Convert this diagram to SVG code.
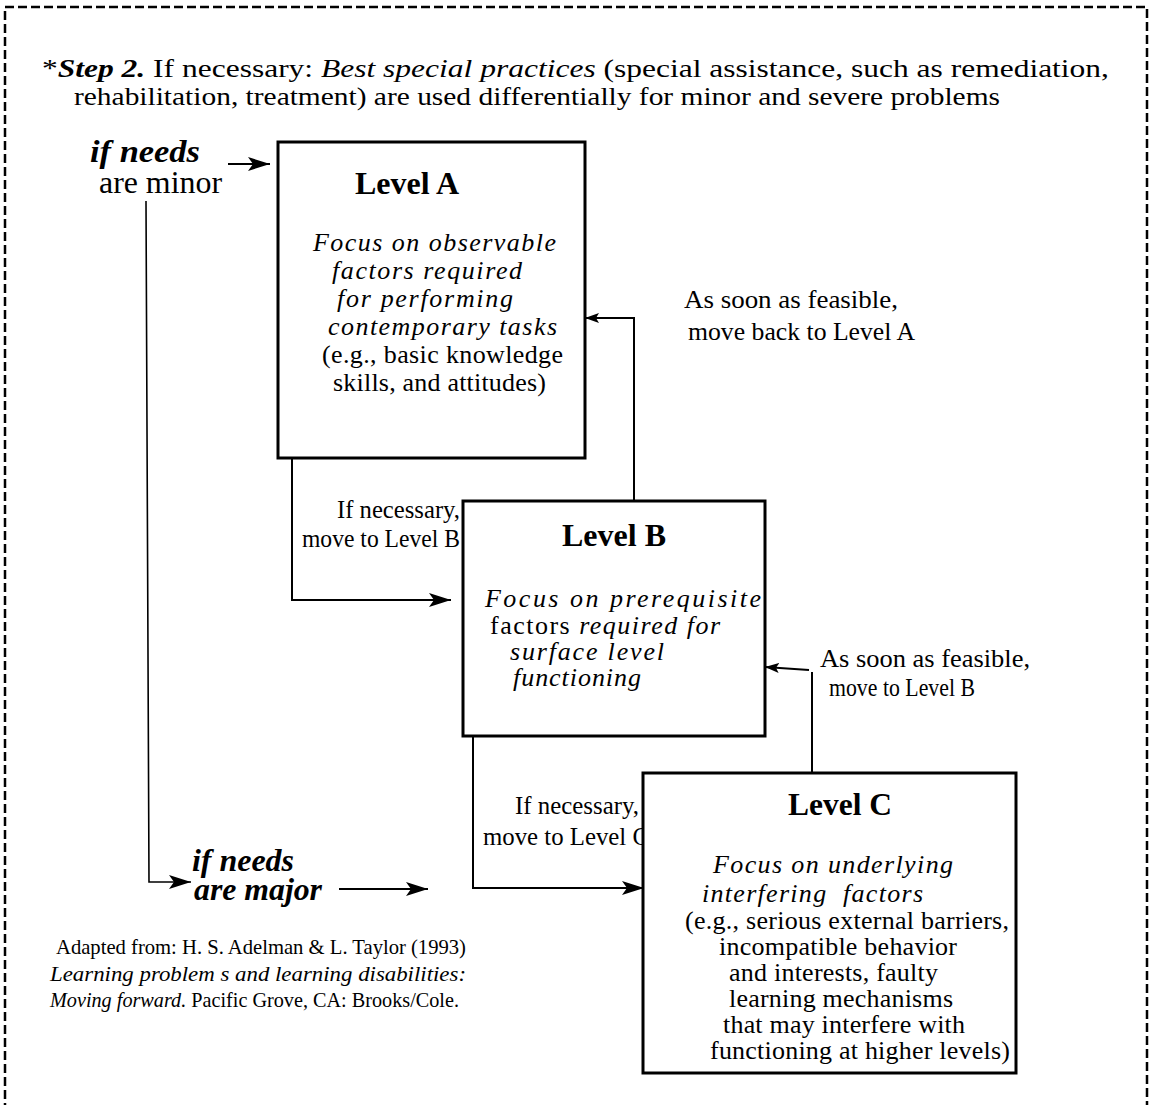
<svg xmlns="http://www.w3.org/2000/svg" width="1152" height="1105" viewBox="0 0 1152 1105">
<style>
text{font-family:"Liberation Serif","Times New Roman",serif;fill:#000}
.t{font-size:26px}
.h{font-size:31px;font-weight:bold}
.b{font-size:26px;font-style:italic}
.r{font-size:26px}
.l{font-size:25px}
.c{font-size:21px}
.n{font-size:31px}
.bi{font-weight:bold;font-style:italic}
.i{font-style:italic}
.box{fill:#fff;stroke:#000;stroke-width:3}
.ln{fill:none;stroke:#000;stroke-width:2}
</style>
<defs>
<marker id="big" markerUnits="userSpaceOnUse" markerWidth="22" markerHeight="14" refX="22" refY="7" orient="auto">
<path d="M0,0 L22,7 L0,14 L5,7 Z" fill="#000"/>
</marker>
<marker id="sm" markerUnits="userSpaceOnUse" markerWidth="14" markerHeight="10" refX="14" refY="5" orient="auto">
<path d="M0,0 L14,5 L0,10 L3,5 Z" fill="#000"/>
</marker>
</defs>
<rect x="5" y="7" width="1142" height="1120" fill="none" stroke="#000" stroke-width="2.5" stroke-dasharray="9 4"/>
<g id="title">
<text class="t" x="42" y="77" textLength="1067" lengthAdjust="spacingAndGlyphs">*<tspan class="bi">Step 2.</tspan> If necessary: <tspan class="i">Best special practices</tspan> (special assistance, such as remediation,</text>
<text class="t" x="74" y="105" textLength="926" lengthAdjust="spacingAndGlyphs">rehabilitation, treatment) are used differentially for minor and severe problems</text>
</g>
<g id="labels">
<text class="n bi" x="90" y="162" textLength="110" lengthAdjust="spacingAndGlyphs">if needs</text>
<text class="n" x="99" y="193" textLength="123" lengthAdjust="spacingAndGlyphs">are minor</text>
<text class="n bi" x="192" y="871" textLength="102" lengthAdjust="spacingAndGlyphs">if needs</text>
<text class="n bi" x="194" y="900" textLength="128" lengthAdjust="spacingAndGlyphs">are major</text>
<text class="l" x="684" y="308" textLength="214" lengthAdjust="spacingAndGlyphs">As soon as feasible,</text>
<text class="l" x="688" y="340" textLength="227" lengthAdjust="spacingAndGlyphs">move back to Level A</text>
<text class="l" x="820" y="667" textLength="210" lengthAdjust="spacingAndGlyphs">As soon as feasible,</text>
<text class="l" x="829" y="696" textLength="146" lengthAdjust="spacingAndGlyphs">move to Level B</text>
<text class="l" x="337" y="518" textLength="123" lengthAdjust="spacingAndGlyphs">If necessary,</text>
<text class="l" x="302" y="547" textLength="158" lengthAdjust="spacingAndGlyphs">move to Level B</text>
<text class="l" x="515" y="814" textLength="124" lengthAdjust="spacingAndGlyphs">If necessary,</text>
<text class="l" x="483" y="845" textLength="166" lengthAdjust="spacingAndGlyphs">move to Level C</text>
<text class="c" x="56" y="954" textLength="410" lengthAdjust="spacingAndGlyphs">Adapted from: H. S. Adelman &amp; L. Taylor (1993)</text>
<text class="c i" x="50" y="981" textLength="416" lengthAdjust="spacingAndGlyphs">Learning problem s and learning disabilities:</text>
<text class="c" x="50" y="1007" textLength="409" lengthAdjust="spacingAndGlyphs"><tspan class="i">Moving forward.</tspan> Pacific Grove, CA: Brooks/Cole.</text>
</g>
<g id="connectors">
<line class="ln" x1="228" y1="164" x2="270" y2="164" marker-end="url(#big)"/>
<path class="ln" style="stroke-width:1.6" d="M146,201 L149,882 L191,882" marker-end="url(#big)"/>
<line class="ln" x1="339" y1="889" x2="428" y2="889" marker-end="url(#big)"/>
<path class="ln" d="M292,459 L292,600 L451,600" marker-end="url(#big)"/>
<path class="ln" d="M634,500 L634,318 L585,318" marker-end="url(#sm)"/>
<line class="ln" x1="812" y1="772" x2="812" y2="672"/>
<line class="ln" x1="809" y1="670" x2="765" y2="667" marker-end="url(#sm)"/>
<path class="ln" d="M473,737 L473,888 L644,888" marker-end="url(#big)"/>
</g>
<g id="levelA">
<rect class="box" x="278" y="142" width="307" height="316"/>
<text class="h" x="355" y="194" textLength="104" lengthAdjust="spacingAndGlyphs">Level A</text>
<text class="b" x="313" y="251" textLength="243">Focus on observable</text>
<text class="b" x="332" y="279" textLength="190">factors required</text>
<text class="b" x="337" y="307" textLength="176">for performing</text>
<text class="b" x="328" y="335" textLength="229">contemporary tasks</text>
<text class="r" x="322" y="363" textLength="241">(e.g., basic knowledge</text>
<text class="r" x="333" y="391" textLength="213">skills, and attitudes)</text>
</g>
<g id="levelB">
<rect class="box" x="463" y="501" width="302" height="235"/>
<text class="h" x="562" y="546" textLength="104" lengthAdjust="spacingAndGlyphs">Level B</text>
<text class="b" x="485" y="607" textLength="276">Focus on prerequisite</text>
<text class="r" x="490" y="634" textLength="230"><tspan>factors </tspan><tspan class="i">required for</tspan></text>
<text class="b" x="510" y="660" textLength="154">surface level</text>
<text class="b" x="513" y="686" textLength="128">functioning</text>
</g>
<g id="levelC">
<rect class="box" x="643" y="773" width="373" height="300"/>
<text class="h" x="788" y="815" textLength="104" lengthAdjust="spacingAndGlyphs">Level C</text>
<text class="b" x="713" y="873" textLength="240">Focus on underlying</text>
<text class="b" x="702" y="902" xml:space="preserve" textLength="221">interfering  factors</text>
<text class="r" x="685" y="929" textLength="324">(e.g., serious external barriers,</text>
<text class="r" x="719" y="955" textLength="238">incompatible behavior</text>
<text class="r" x="729" y="981" textLength="209">and interests, faulty</text>
<text class="r" x="729" y="1007" textLength="224">learning mechanisms</text>
<text class="r" x="723" y="1033" textLength="242">that may interfere with</text>
<text class="r" x="710" y="1059" textLength="300">functioning at higher levels)</text>
</g>
</svg>
